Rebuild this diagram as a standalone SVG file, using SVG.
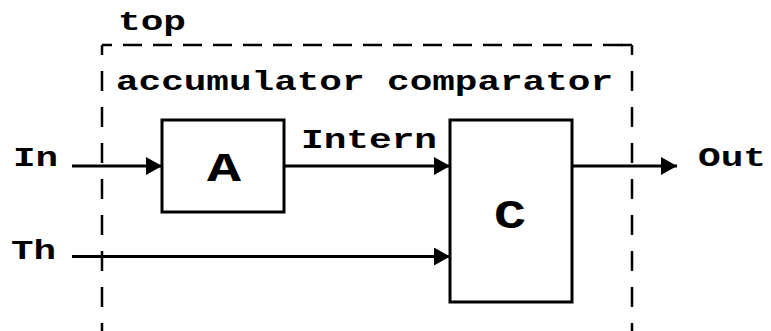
<svg xmlns="http://www.w3.org/2000/svg" width="771" height="331" viewBox="0 0 771 331">
<style>
.lbl{font-family:"Liberation Mono","DejaVu Sans Mono",monospace;font-weight:bold;font-size:27px;fill:#000}
.big{font-family:"Liberation Mono","DejaVu Sans Mono",monospace;font-weight:bold;font-size:40px;fill:#000}
.box{fill:#fff;stroke:#000;stroke-width:3}
.wire{fill:none;stroke:#000;stroke-width:3}
.dv{fill:none;stroke:#000;stroke-width:2.5;stroke-dasharray:20 16;stroke-dashoffset:10}
.dh{fill:none;stroke:#000;stroke-width:2.5;stroke-dasharray:19 11;stroke-dashoffset:9}
</style>
<defs>
<marker id="arr" viewBox="0 0 16 18" refX="16" refY="9" markerWidth="16" markerHeight="18" markerUnits="userSpaceOnUse" orient="auto">
<path d="M0,0 L16,9 L0,18 Z" fill="#000"/>
</marker>
</defs>
<rect width="771" height="331" fill="#fff"/>
<g id="top">
<path class="dv" d="M102,45 V331"/>
<path class="dv" d="M632,45 V331"/>
<path class="dh" d="M102,45 H632"/>
<path class="wire" style="stroke-width:2.5" d="M621,45 H632"/>
<text class="lbl" x="118" y="30" textLength="68" lengthAdjust="spacingAndGlyphs">top</text>
<text class="lbl" x="116" y="90" textLength="497" lengthAdjust="spacingAndGlyphs">accumulator comparator</text>
</g>
<g id="A">
<rect class="box" x="162" y="120" width="122" height="92"/>
<text class="big" x="207" y="181" textLength="34" lengthAdjust="spacingAndGlyphs">A</text>
</g>
<g id="C">
<rect class="box" x="450" y="120" width="122" height="182"/>
<text class="big" x="494" y="228" textLength="32" lengthAdjust="spacingAndGlyphs">C</text>
</g>
<g id="connectors">
<path class="wire" d="M72,166 H162" marker-end="url(#arr)"/>
<path class="wire" d="M284,166 H450" marker-end="url(#arr)"/>
<path class="wire" d="M72,256.5 H450" marker-end="url(#arr)"/>
<path class="wire" d="M572,166 H677" marker-end="url(#arr)"/>
<text class="lbl" x="13" y="166" textLength="45" lengthAdjust="spacingAndGlyphs">In</text>
<text class="lbl" x="11" y="259" textLength="45" lengthAdjust="spacingAndGlyphs">Th</text>
<text class="lbl" x="301" y="148" textLength="136" lengthAdjust="spacingAndGlyphs">Intern</text>
<text class="lbl" x="698" y="166" textLength="68" lengthAdjust="spacingAndGlyphs">Out</text>
</g>
</svg>
